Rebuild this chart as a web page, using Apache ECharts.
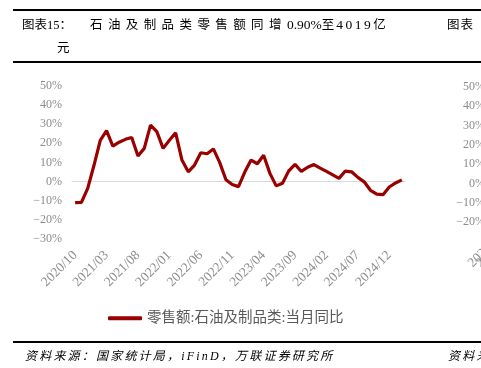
<!DOCTYPE html>
<html>
<head>
<meta charset="utf-8">
<script src="https://cdn.jsdelivr.net/npm/echarts@6/dist/echarts.min.js"></script>
<style>
    html, body { margin: 0; padding: 0; background: #fff; }
    #wrap { position: relative; width: 481px; height: 368px; overflow: hidden; }
    #chart { position: absolute; left: 0; top: 0; width: 481px; height: 368px; }
    .rule { position: absolute; left: 13px; width: 468px; background: #000; }
    .txt { position: absolute; white-space: nowrap; color: #000;
           font-family: 'Liberation Serif', 'Noto Sans CJK SC', serif; font-size: 12.5px; line-height: 14px; }
    .src { font-style: italic; font-size: 12px; letter-spacing: 2.2px; }
</style>
</head>
<body>
<div id="wrap">
    <div id="chart"></div>
    <div class="rule" style="top:9px;height:1.6px"></div>
    <div class="rule" style="top:61px;height:2px"></div>
    <div class="rule" style="top:341px;height:2px"></div>

    <div class="txt" style="left:22px;top:18px">图表15：</div>
    <div class="txt" style="left:90px;top:18px"><span style="letter-spacing:5.4px">石油及制品类零售额同增</span><span style="font-size:13.5px">0.90%</span><span style="letter-spacing:2px">至</span><span style="letter-spacing:2.5px;font-size:13.5px">4019</span>亿</div>
    <div class="txt" style="left:57px;top:41px">元</div>
    <div class="txt" style="left:447px;top:18px;letter-spacing:1px">图表</div>

    <div class="txt src" style="left:25px;top:349px">资料来源：国家统计局，iFinD，万联证券研究所</div>
    <div class="txt src" style="left:448px;top:349px">资料来源</div>
</div>
<script>
    // 月份(2020/10 - 2025/02)
    var months = [
        '2020/10', '2020/11', '2020/12',
        '2021/01', '2021/02', '2021/03', '2021/04', '2021/05', '2021/06',
        '2021/07', '2021/08', '2021/09', '2021/10', '2021/11', '2021/12',
        '2022/01', '2022/02', '2022/03', '2022/04', '2022/05', '2022/06',
        '2022/07', '2022/08', '2022/09', '2022/10', '2022/11', '2022/12',
        '2023/01', '2023/02', '2023/03', '2023/04', '2023/05', '2023/06',
        '2023/07', '2023/08', '2023/09', '2023/10', '2023/11', '2023/12',
        '2024/01', '2024/02', '2024/03', '2024/04', '2024/05', '2024/06',
        '2024/07', '2024/08', '2024/09', '2024/10', '2024/11', '2024/12',
        '2025/01', '2025/02'
    ];
    // 零售额:石油及制品类:当月同比 (%)
    var petroYoY = [
        -10.9, -10.8, -3.5,
        8.5, 21.5, 26.5, 18.5, 20.5, 22.0,
        23.0, 13.3, 17.3, 29.4, 26.0, 17.3,
        21.5, 25.4, 11.2, 5.1, 8.6, 15.0,
        14.5, 17.0, 10.0, 1.0, -1.5, -2.6,
        5.0, 11.2, 9.3, 13.7, 4.3, -2.2,
        -0.8, 5.6, 9.0, 5.3, 7.5, 8.9,
        7.0, 5.3, 3.5, 1.7, 5.5, 5.1,
        2.2, -0.1, -4.5, -6.5, -6.8, -2.8,
        -0.7, 0.9
    ];
    var seriesName = '零售额:石油及制品类:当月同比';
    // 纵轴范围
    var yLeft = { min: -30, max: 50, step: 10 };
    var yRight = { min: -20, max: 50, step: 10 };

    var gray = '#8c8c8c';
    var serif = "'Liberation Serif', 'Noto Sans CJK SC', serif";

    function pct(v) {
        return (v < 0 ? '\u2212' + Math.abs(v) : v) + '%';
    }

    var chart = echarts.init(document.getElementById('chart'));

    var option = {
        animation: false,
        grid: [
            { left: 72, top: 85.5, width: 333, height: 153.8 },
            // 右侧相邻图表(被裁切)
            { left: 493, top: 87, width: 333, height: 135 }
        ],
        legend: {
            left: 103,
            top: 306,
            icon: 'roundRect',
            itemWidth: 34,
            itemHeight: 4,
            textStyle: { fontFamily: serif, fontSize: 14.5, color: '#595959' },
            data: [seriesName]
        },
        xAxis: [{
            type: 'category',
            gridIndex: 0,
            data: months,
            boundaryGap: true,
            position: 'bottom',
            axisLine: { show: false, onZero: false },
            axisTick: { show: false },
            axisLabel: { interval: 4, rotate: 45, margin: 14, color: gray, fontFamily: serif, fontSize: 13.5 }
        }, {
            type: 'category',
            gridIndex: 0,
            data: months,
            boundaryGap: true,
            position: 'bottom',
            axisLine: { onZero: true, lineStyle: { color: '#d9d9d9', width: 1 } },
            axisTick: { interval: 4, length: 4, lineStyle: { color: '#d9d9d9' } },
            axisLabel: { show: false }
        }, {
            type: 'category',
            gridIndex: 1,
            data: months,
            boundaryGap: true,
            position: 'bottom',
            axisLine: { show: false, onZero: false },
            axisTick: { show: false },
            axisLabel: { interval: 4, rotate: 45, margin: 12, color: gray, fontFamily: serif, fontSize: 13.5 }
        }],
        yAxis: [{
            type: 'value',
            gridIndex: 0,
            min: yLeft.min,
            max: yLeft.max,
            interval: yLeft.step,
            axisLine: { show: false },
            axisTick: { show: false },
            splitLine: { show: false },
            axisLabel: { formatter: pct, color: gray, fontFamily: serif, fontSize: 12, margin: 10 }
        }, {
            type: 'value',
            gridIndex: 1,
            min: yRight.min,
            max: yRight.max,
            interval: yRight.step,
            axisLine: { show: false },
            axisTick: { show: false },
            splitLine: { show: false },
            axisLabel: { formatter: pct, color: gray, fontFamily: serif, fontSize: 12, margin: 8 }
        }],
        series: [{
            name: seriesName,
            type: 'line',
            xAxisIndex: 0,
            yAxisIndex: 0,
            data: petroYoY,
            symbol: 'none',
            lineStyle: { color: '#990000', width: 3.2 },
            itemStyle: { color: '#990000' }
        }]
    };

    chart.setOption(option);
</script>
</body>
</html>
